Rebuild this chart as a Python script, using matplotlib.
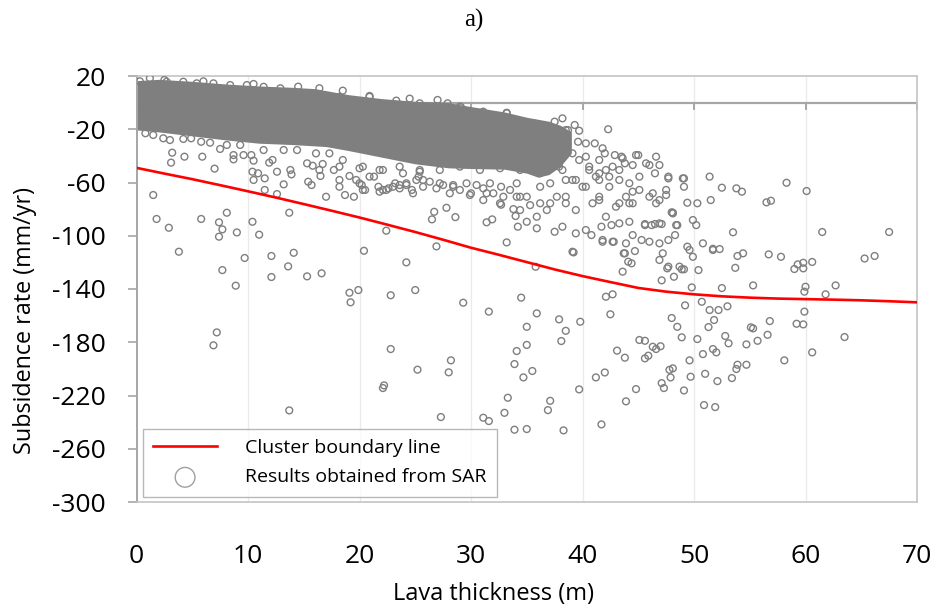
import matplotlib
matplotlib.use("Agg")
import matplotlib.pyplot as plt

# ---------------- data ----------------
x_ticks = [0, 10, 20, 30, 40, 50, 60, 70]
y_ticks = [20, -20, -60, -100, -140, -180, -220, -260, -300]

boundary_x = [0, 2.5, 5, 7.5, 10, 12.5, 15, 17.5, 20, 22.5, 25, 27.5, 30, 32.5, 35,
              37.5, 40, 42.5, 45, 47.5, 50, 52.5, 55, 57.5, 60, 62.5, 65, 67.5, 70]
boundary_y = [-49, -53.3, -57.5, -62, -66.6, -71.3, -76.2, -81.2, -86.3, -91.7, -97.2,
              -103, -109, -114.3, -119.8, -125.3, -130.3, -134.8, -139.2, -142, -144,
              -145.5, -146.5, -147.2, -147.6, -148, -148.5, -149.2, -150]

# envelope of the saturated (fully overlapping) part of the SAR point cloud
core_x = [0, 2, 5, 8, 11, 14, 16, 17, 18, 19, 22, 25, 28, 30, 33, 35, 36, 37, 38, 39]
core_top = [16.5, 17.5, 16, 14, 12.5, 11.5, 10.5, 9, 7.5, 6, 3, 1, 0, -3, -7, -11,
            -12.5, -14, -17, -22]
core_bot = [-20.5, -22, -25, -28, -30.5, -31.5, -32.5, -33, -34.5, -36, -41, -46, -49,
            -49.5, -50, -53, -56, -54, -48, -38]

# individually visible SAR points (x = lava thickness, y = subsidence rate)
sar_points = [
    # upper edge of cloud
    (0.3, 16), (1.2, 18.3), (2.5, 17), (2.7, 15.7), (4.2, 15.7), (5.4, 14.5), (6, 16),
    (6.9, 14.5), (8.4, 13.2), (9.9, 13.2), (10.5, 14), (11.4, 11.9), (12.9, 10.8),
    (14.5, 12), (16.4, 10.8), (18.5, 9), (18.2, 4.4), (20.9, 4.4), (20.9, 5), (23.3, 1.5),
    (24.5, 3), (25.4, -0.5), (27, 2), (27.9, -0.5), (29, -3), (29.1, -3.5), (31.1, -6.8),
    (33.2, -7.6), (33.2, -8), (33.8, -13), (35.6, -15.5), (36.4, -18), (37.5, -14.3),
    (38.2, -11.8), (38.7, -20.6), (39.3, -16.8), (39.7, -21.1), (42.3, -20), (35.6, -23),
    (37.1, -23),
    # lower edge of cloud
    (0.8, -23), (1.5, -24.3), (2.4, -26.8), (3.0, -28.1), (4.2, -27.3), (4.9, -26.8),
    (5.8, -29.4), (6.6, -30.1), (7.5, -34.8), (8.1, -31.8), (9.3, -31.8), (11.4, -35.6),
    (13.2, -35.6), (14.4, -35.6), (16.1, -38.1), (17.3, -38.1), (18.5, -43.1), (20.3, -48.1),
    (22.1, -50.6), (23.9, -53.1), (25.4, -50.6), (16.4, -50.6), (18.2, -48.1), (20.0, -49.3),
    (21.8, -50.6), (23.6, -48.1), (25.4, -51.9), (27.2, -50.6), (29.0, -48.1), (30.8, -50.6),
    (32.6, -49.3), (34.4, -50.6),
    # scattered below the cloud, left part
    (3.2, -37.6), (3.1, -45.1), (4.3, -40.6), (5.9, -40.6), (7.0, -49.6), (1.5, -69.4),
    (8.7, -39.4), (8.7, -42.6), (9.6, -39.4), (10.3, -39.4), (10.5, -43.6), (10.5, -58.1),
    (10.4, -51.9), (10.9, -53.1), (11.5, -56.9), (11.5, -65.6), (11.9, -45.1), (12.2, -43.1),
    (12.6, -51.9), (12.6, -68.7), (13.2, -61.4), (13.8, -50.6), (13.9, -53.9), (15.3, -45.6),
    (15.8, -47.4), (15.4, -59.4), (15.7, -61.9), (16.5, -55.1), (16.7, -46.1), (17.0, -70.7),
    (17.7, -50.6), (18.2, -58.1), (18.2, -63.2), (18.7, -69.4), (19.1, -55.1), (19.5, -70.7),
    (20.0, -60.6), (20.3, -65.6), (20.9, -55.6), (21.8, -66.9), (22.4, -65.6), (23.0, -63.2),
    (23.6, -61.9), (24.2, -60.6), (24.8, -68.1), (25.3, -55.6), (25.7, -58.1),
    (19.7, -58.1), (20.2, -61.9), (20.5, -65.6), (21.3, -55.6), (21.7, -63.2), (22.1, -65.6),
    (22.6, -64.4), (23.2, -60.6), (23.6, -64.4), (24.2, -61.9), (24.7, -65.6), (25.1, -58.1),
    (25.7, -63.2), (26.3, -59.4), (26.9, -64.4), (27.5, -61.9), (28.1, -68.1), (28.4, -61.9),
    (29.0, -65.6), (29.6, -60.6), (30.0, -68.1), (30.5, -61.9), (31.1, -64.4), (31.7, -60.6),
    (32.0, -68.1), (32.7, -63.2), (33.5, -65.6), (34.1, -60.6),
    (27.2, -60.6), (28.4, -63.2), (29.9, -69.4), (31.4, -68.1), (31.1, -73.2), (32.6, -75.6),
    (32.9, -70.7), (34.4, -70.7), (34.4, -80.7), (35.3, -77), (36.2, -75.6), (36.8, -80.7),
    (37.7, -70.7), (38.2, -50.6), (39.1, -38.1), (40.3, -40.6), (41.5, -43.1), (42.1, -50.6),
    (41.2, -55.6), (39.4, -58.1), (40.3, -63.2), (41.5, -70.7), (42.1, -85.7), (40.9, -75.6),
    (39.4, -80.7), (38.5, -75.6),
    # middle
    (1.8, -87.4), (2.9, -94), (5.8, -87.4), (7.4, -89.9), (8.1, -82.7), (7.7, -95.2),
    (7.4, -100.7), (9.0, -97.5), (10.4, -89.5), (11.0, -99.2), (13.7, -82.7), (3.8, -112),
    (7.7, -125.8), (8.9, -137.5), (9.7, -116.7), (12.1, -115.2), (12.1, -131), (13.6, -123),
    (14.1, -112.8), (15.3, -130.5), (16.6, -128.2), (19.1, -142.8), (19.2, -150), (19.9, -140.8),
    (20.4, -111.3), (22.4, -96.2), (22.8, -144.7), (24.2, -120), (25.0, -140.8), (26.9, -108),
    (26.5, -87.7), (26.7, -82), (27.8, -79), (28.6, -86), (29.3, -150.3), (31.6, -157),
    (31.4, -89.9), (31.9, -87.7), (33.2, -105), (32.7, -76.7), (33.8, -80), (34.0, -85.2),
    (34.2, -93.2), (34.5, -146.5), (35.0, -168.4), (35.0, -182), (34.1, -186.6), (33.9, -196.4),
    (34.7, -206.4), (33.3, -221.7), (33.0, -233), (33.9, -245.7), (35.0, -245.2), (31.1, -236.7),
    (31.6, -239.2), (27.3, -236.2), (28.2, -193.6), (28.0, -202.6), (25.2, -200.6),
    (22.8, -185.1), (22.2, -212.4), (22.1, -214.4), (13.7, -231.2), (7.2, -172.6), (6.9, -182.3),
    # right of the cloud
    (38.5, -20.6), (39.6, -29.4), (40.3, -30.6), (41.1, -30.6), (41.8, -34.3), (42.9, -39.4),
    (43.6, -41.8), (45.0, -39.4), (46.6, -40.6), (46.9, -46.9), (46.0, -46.9), (44.5, -46.9),
    (43.8, -45.6), (43.3, -50.6), (42.7, -48.1), (45.1, -55.6), (46.5, -53.1), (47.7, -55.6),
    (49.0, -56.9), (49.1, -63.2), (51.4, -55.6), (47.5, -65.6), (47.5, -69.4), (46.3, -68.1),
    (46.6, -75.6), (44.5, -66.9), (43.9, -70.7), (43.3, -75.6), (44.2, -75.6), (49.4, -75.2),
    (50.3, -75.6), (51.5, -73.2), (48.1, -83.2), (48.4, -92), (49.9, -88.2), (50.2, -92),
    (46.9, -90.7), (46.2, -92), (45.6, -92), (44.5, -99.5), (43.9, -105.7), (45.3, -103.2),
    (46.0, -104.5), (46.9, -105.7), (47.7, -103.2), (48.3, -99.5), (49.4, -108.2),
    (49.6, -110.7), (50.8, -105.7), (51.7, -110.7), (43.7, -113.2), (44.1, -119.5),
    (44.4, -120.7), (47.7, -123.2), (48.7, -123.2), (39.1, -112), (35.9, -94.4), (35.9, -85.7),
    (37.5, -97), (38.2, -93.2), (39.4, -98.2), (40.3, -95.7), (40.8, -99.5), (41.7, -93.2),
    (42.6, -92), (43.3, -90.7), (44.2, -89.5), (41.8, -104.5), (42.7, -104.5), (35.0, -89.5),
    (42.0, -38.1), (43.5, -40.6), (44.8, -39.4), (45.7, -45.6), (47.7, -56.9), (49.1, -56.9),
    (48.1, -82.7), (39.7, -43.1), (40.6, -48.1), (41.5, -53.1), (42.4, -55.6), (43.3, -58.1),
    (44.2, -60.6), (45.1, -65.6), (46.0, -70.7), (46.9, -73.2), (40.6, -50.6), (41.5, -58.1),
    (42.4, -63.2), (44.5, -75.6), (41.5, -73.2), (43.0, -78.2), (40.0, -63.2), (39.1, -58.1),
    (38.5, -70.7), (37.1, -75.6), (36.2, -63.2), (35.0, -70.7), (34.1, -70.7), (37.1, -40.6),
    (37.9, -48.1), (38.5, -58.1), (37.1, -60.6), (36.2, -53.1), (37.9, -35.6), (36.8, -30.6),
    (52.5, -63.9), (53.8, -64.4), (54.3, -66.9), (56.5, -74.9), (56.9, -73.7), (58.3, -60.2),
    (60.1, -66.4),
    # lower right
    (35.8, -123.3), (39.2, -112.5), (35.9, -158.3), (35.5, -201.6), (37.9, -162.8),
    (38.5, -171.4), (39.8, -164.6), (38.1, -179.1), (37.1, -224), (36.9, -231), (38.3, -246.2),
    (39.7, -215.4), (41.7, -241.7), (41.2, -206.4), (42.0, -202.7), (42.1, -145.8), (42.7, -144),
    (42.5, -159), (43.1, -186.3), (43.8, -191.6), (44.8, -215.2), (43.9, -224.4), (45.1, -178.3),
    (45.6, -178.9), (45.6, -192.1), (45.9, -190.1), (46.3, -183.4), (46.6, -185.1), (47.0, -183),
    (48.0, -161.8), (48.5, -168.4), (48.9, -176.3), (47.8, -200.7), (48.1, -199.6),
    (47.9, -206.4), (47.1, -210.7), (47.3, -214.4), (49.1, -216.2), (49.6, -193.6),
    (49.7, -205.9), (49.2, -152.3), (47.1, -133.5), (48.2, -130.8), (49.8, -138.8),
    (50.3, -177.6), (50.7, -149.6), (50.8, -188.9), (51.0, -203.7), (50.9, -227.2),
    (51.9, -228.7), (51.4, -155.8), (52.2, -155.8), (51.3, -168.6), (51.8, -163.3),
    (51.7, -185.1), (52.0, -187.6), (52.1, -209.2), (52.5, -139.3), (53.0, -153), (52.8, -175.3),
    (53.1, -180.8), (53.4, -206.9), (53.9, -196.9), (53.8, -200.1), (54.7, -196.9),
    (54.7, -181.6), (53.7, -124.1), (53.5, -97.4), (53.9, -115.2), (54.4, -113.2),
    (55.1, -168.8), (55.3, -169.6), (55.3, -137.3), (55.7, -178.9), (56.6, -174.4),
    (56.8, -164.1), (56.7, -114), (57.8, -115.8), (58.1, -193.6), (59.0, -125), (59.3, -121.5),
    (59.8, -120.3), (59.8, -124.5), (60.6, -119.7), (60.0, -138.3), (59.9, -142), (59.9, -157),
    (59.2, -166.1), (59.8, -166.6), (60.6, -187.6), (61.5, -97.2), (61.8, -144), (62.7, -137.3),
    (63.5, -176.1), (65.3, -117.1), (66.2, -115.2), (67.5, -97.2),
    (41.8, -103.2), (42.8, -104.5), (43.8, -113.2), (44.7, -111.5), (43.6, -127), (47.6, -124.5),
    (48.9, -125.2), (49.1, -125.2), (50.4, -125.8), (51.7, -109.8), (52.3, -110), (49.9, -115.8),
    (46.9, -118.2), (47.2, -113.2), (45.6, -91.2), (46.5, -91.2), (47.1, -91.2), (48.5, -92),
    (48.0, -82.4),
]
sar_x = [p[0] for p in sar_points]
sar_y = [p[1] for p in sar_points]

title_text = "a)"
x_label = "Lava thickness (m)"
y_label = "Subsidence rate (mm/yr)"
legend_labels = ["Cluster boundary line", "Results obtained from SAR"]

# ---------------- figure ----------------
FONT = ["Open Sans", "DejaVu Sans"]
plt.rcParams["font.family"] = FONT

W, H = 938, 610
fig = plt.figure(figsize=(W / 100, H / 100), dpi=100)
ax = fig.add_axes([136.5 / W, 1 - 502 / H, (917 - 136.5) / W, (502 - 76) / H])

gray = "#7f7f7f"

ax.set_xlim(x_ticks[0], x_ticks[-1])
ax.set_ylim(y_ticks[-1], y_ticks[0])

# vertical gridlines
for xt in x_ticks[1:-1]:
    ax.axvline(xt, color="#ebebeb", lw=1.0, zorder=0)

# horizontal axis line at zero with its tick marks
ax.axhline(0, color="#a6a6a6", lw=1.6, zorder=1)
for xt in x_ticks:
    ax.plot([xt, xt], [0, -4.5], color="#a6a6a6", lw=1.4, zorder=1, clip_on=False)

# saturated core of the point cloud
ax.fill_between(core_x, core_bot, core_top, color=gray, lw=0, zorder=2)

sc = ax.scatter(sar_x, sar_y, s=24, facecolors="none", edgecolors=gray,
                linewidths=1.0, zorder=3, label=legend_labels[1])
ln, = ax.plot(boundary_x, boundary_y, color="#ff0000", lw=1.9, zorder=4,
              label=legend_labels[0])

ax.set_xticks(x_ticks)
ax.set_yticks(y_ticks)
ax.set_xticklabels([str(v) for v in x_ticks])
ax.set_yticklabels([str(v) for v in y_ticks])
ax.tick_params(axis="x", length=0, pad=30, labelsize=19, colors="black")
ax.tick_params(axis="y", length=6.5, width=1.2, color="#a6a6a6", pad=15.5,
               labelsize=19, direction="out")

for side in ["top", "right", "bottom"]:
    ax.spines[side].set_color("#c4c4c4")
    ax.spines[side].set_linewidth(1.2)
ax.spines["left"].set_color("#a6a6a6")
ax.spines["left"].set_linewidth(1.4)

ax.set_xlabel(x_label, fontsize=17)
ax.set_ylabel(y_label, fontsize=16.8)
ax.xaxis.set_label_coords(0.458, -0.187)
ax.yaxis.set_label_coords(-0.128, 0.425)

leg = ax.legend(handles=[ln, sc], labels=legend_labels, loc="lower left",
                bbox_to_anchor=(0.0083, 0.012), borderaxespad=0, fontsize=14,
                frameon=True, fancybox=False, edgecolor="#a6a6a6", markerscale=2.9,
                handlelength=3.25, handletextpad=1.45, borderpad=0.54, labelspacing=0.57)
leg.get_frame().set_linewidth(1.0)
leg.set_zorder(6)
leg.legend_handles[1].set_edgecolor("#a0a0a0")

fig.text(474 / W, 1 - 20 / H, title_text, ha="center", va="center",
         family=["Liberation Serif", "DejaVu Serif"], fontsize=18)

fig.savefig("out.png", dpi=100)
